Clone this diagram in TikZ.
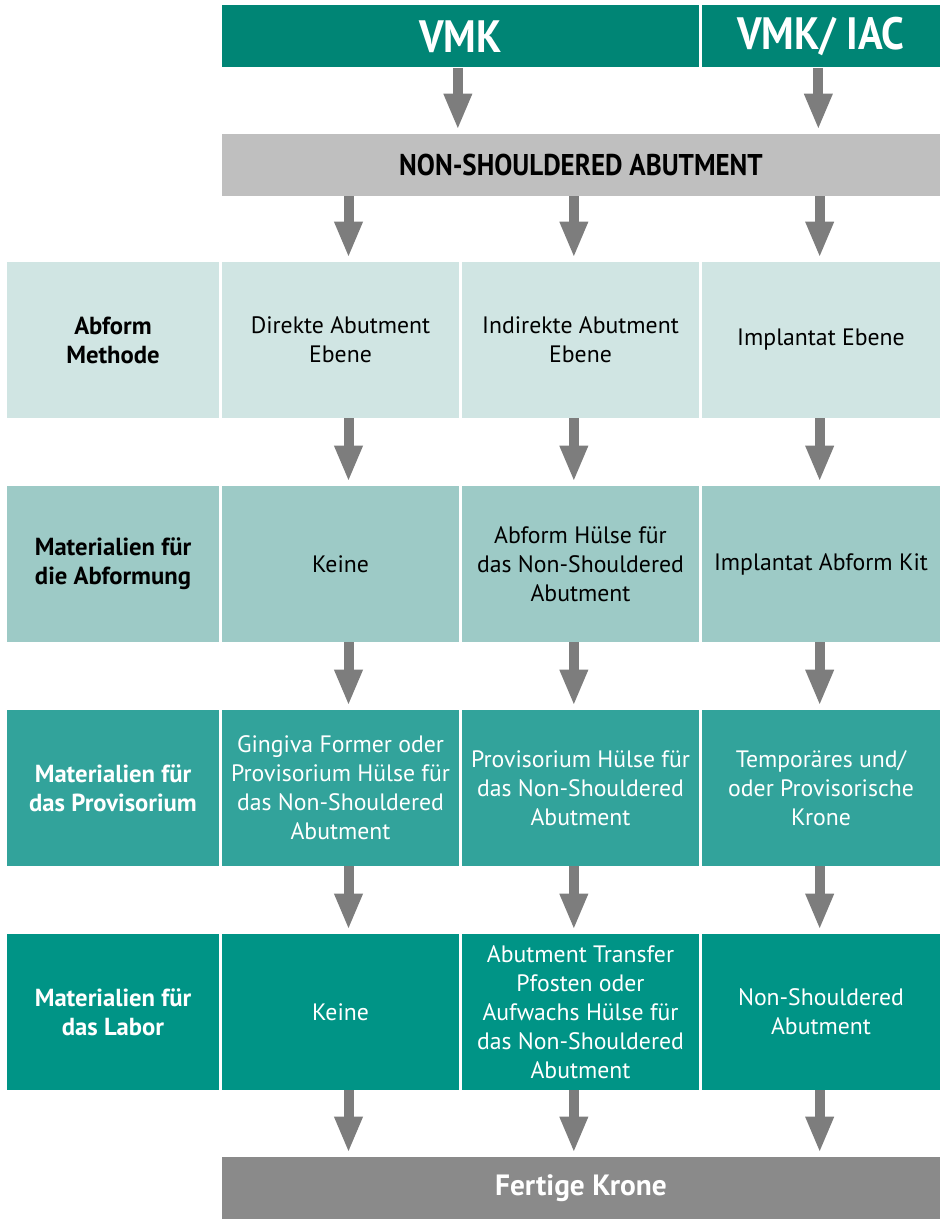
\documentclass[tikz,border=0pt]{standalone}
\usepackage{fontspec}
\setmainfont{PT Sans}
\newfontfamily\condbf[FakeStretch=0.9]{PT Sans Bold}
\usepackage{tikz}
\usetikzlibrary{arrows.meta, positioning, calc}
\definecolor{kroneHead}{RGB}{0,133,117}
\definecolor{kroneGray}{RGB}{191,191,191}
\definecolor{kroneRowA}{RGB}{208,229,227}
\definecolor{kroneRowB}{RGB}{157,202,198}
\definecolor{kroneRowC}{RGB}{50,163,155}
\definecolor{kroneRowD}{RGB}{0,148,134}
\definecolor{kroneDone}{RGB}{138,138,138}
\definecolor{kroneArrow}{RGB}{125,125,125}

\begin{document}
\begin{tikzpicture}[x=0.75pt, y=-0.75pt,
      cell/.style={inner sep=0pt, minimum height=117pt, align=center,
      font=\fontsize{17.8}{21.75}\selectfont},
      lbl/.style={cell, minimum width=159pt, font=\fontsize{18.5}{21.75}\selectfont\bfseries},
      mid/.style={cell, minimum width=177.75pt},
      rgt/.style={cell, minimum width=178.5pt},
      bar/.style={inner sep=0pt, minimum height=46.5pt, align=center},
      flow/.style={-{Triangle[width=19.5pt, length=27pt]}, line width=7.5pt, draw=kroneArrow, shorten >=3pt}
    ]
    \useasboundingbox (0,0) rectangle (945,1219);

    % kopfzeile
    \node[bar, fill=kroneHead, minimum width=357.75pt, text=white, font=\fontsize{34}{38}\condbf] (vmk) at (460.5,36.5) {VMK};
    \node[bar, fill=kroneHead, minimum width=178.5pt, text=white, font=\fontsize{34}{38}\condbf] (iac) at (821,36.5) {VMK/ IAC};
    \node[bar, fill=kroneGray, minimum width=538.5pt, font=\fontsize{22.5}{26}\condbf] (nsa) at (581,165) {NON-SHOULDERED ABUTMENT};

    % zeile 1
    \node[lbl, fill=kroneRowA] (l1) at (113,340) {Abform\\Methode};
    \node[mid, fill=kroneRowA] (a1) at (340.5,340) {Direkte Abutment\\Ebene};
    \node[mid, fill=kroneRowA] (a2) at (580.5,340) {Indirekte Abutment\\Ebene};
    \node[rgt, fill=kroneRowA] (a3) at (821,340) {Implantat Ebene};

    % zeile 2
    \node[lbl, fill=kroneRowB] (l2) at (113,564) {Materialien für\\die Abformung};
    \node[mid, fill=kroneRowB] (b1) at (340.5,564) {Keine};
    \node[mid, fill=kroneRowB] (b2) at (580.5,564) {Abform Hülse für\\das Non-Shouldered\\Abutment};
    \node[rgt, fill=kroneRowB] (b3) at (821,564) {Implantat Abform Kit};

    % zeile 3
    \node[lbl, fill=kroneRowC, text=white] (l3) at (113,788) {Materialien für\\das Provisorium};
    \node[mid, fill=kroneRowC, text=white] (c1) at (340.5,788) {Gingiva Former oder\\Provisorium Hülse für\\das Non-Shouldered\\Abutment};
    \node[mid, fill=kroneRowC, text=white] (c2) at (580.5,788) {Provisorium Hülse für\\das Non-Shouldered\\Abutment};
    \node[rgt, fill=kroneRowC, text=white] (c3) at (821,788) {Temporäres und/\\oder Provisorische\\Krone};

    % zeile 4
    \node[lbl, fill=kroneRowD, text=white] (l4) at (113,1012) {Materialien für\\das Labor};
    \node[mid, fill=kroneRowD, text=white] (d1) at (340.5,1012) {Keine};
    \node[mid, fill=kroneRowD, text=white] (d2) at (580.5,1012) {Abutment Transfer\\Pfosten oder\\Aufwachs Hülse für\\das Non-Shouldered\\Abutment};
    \node[rgt, fill=kroneRowD, text=white] (d3) at (821,1012) {Non-Shouldered\\Abutment};

    \node[bar, fill=kroneDone, minimum width=538.5pt, text=white, font=\fontsize{22}{26}\selectfont\bfseries] (fertig) at (581,1188) {Fertige Krone};

    % pfeile
    \draw[flow] ([xshift=-2pt]vmk.south) -- ([xshift=-2pt]vmk.south |- nsa.north);
    \draw[flow] ([xshift=-2pt]iac.south) -- ([xshift=-2pt]iac.south |- nsa.north);
    \draw[flow] ([xshift=6pt]a1.north |- nsa.south) -- ([xshift=6pt]a1.north);
    \draw[flow] ([xshift=-5pt]a2.north |- nsa.south) -- ([xshift=-5pt]a2.north);
    \draw[flow] ([xshift=-1pt]a3.north |- nsa.south) -- ([xshift=-1pt]a3.north);
    \foreach \up/\dn in {a1/b1, b1/c1, c1/d1} {
      \draw[flow] ([xshift=6pt]\up.south) -- ([xshift=6pt]\dn.north);
    }
    \foreach \up/\dn in {a2/b2, b2/c2, c2/d2} {
      \draw[flow] ([xshift=-5pt]\up.south) -- ([xshift=-5pt]\dn.north);
    }
    \foreach \up/\dn in {a3/b3, b3/c3, c3/d3} {
      \draw[flow] ([xshift=-1pt]\up.south) -- ([xshift=-1pt]\dn.north);
    }
    \draw[flow] ([xshift=6pt]d1.south) -- ([xshift=6pt]d1.south |- fertig.north);
    \draw[flow] ([xshift=-5pt]d2.south) -- ([xshift=-5pt]d2.south |- fertig.north);
    \draw[flow] ([xshift=-1pt]d3.south) -- ([xshift=-1pt]d3.south |- fertig.north);
  \end{tikzpicture}
\end{document}
